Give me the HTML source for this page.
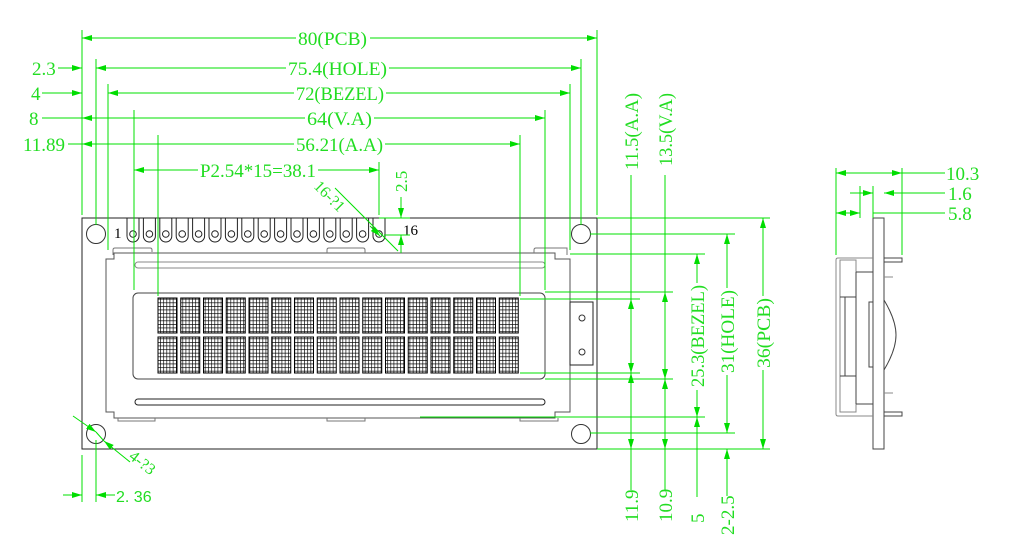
<!DOCTYPE html>
<html><head><meta charset="utf-8"><style>
html,body{margin:0;padding:0;background:#fff;width:1010px;height:544px;overflow:hidden}
svg text{font-family:"Liberation Serif",serif;fill:#22dd22;font-size:19px}
</style></head><body>
<svg width="1010" height="544" viewBox="0 0 1010 544" xmlns="http://www.w3.org/2000/svg">
<defs>
<pattern id="g" width="3.2" height="3.6" patternUnits="userSpaceOnUse">
<rect width="3.2" height="3.6" fill="#fff"/>
<path d="M0 0H3.2M0 0V3.6" stroke="#000" stroke-width="1.3"/>
</pattern>
<marker id="a" viewBox="0 0 10 6" refX="10" refY="3" markerWidth="10" markerHeight="6" orient="auto-start-reverse" markerUnits="userSpaceOnUse"><path d="M0 0L10 3L0 6z" fill="#00dd00"/></marker>
</defs>

<g fill="none" stroke="#333" stroke-width="1">
<rect x="82" y="218" width="515" height="231" stroke="#222"/>
<circle cx="96" cy="234" r="9.5"/><circle cx="581" cy="234" r="9.5"/>
<circle cx="96" cy="434" r="9.5"/><circle cx="581" cy="434" r="9.5"/>
<path d="M106 259H114V253H555V259H570V412H555V418H114V412H106Z" stroke="#555"/>
<path d="M113 255V250Q113 248 115 248H150Q152 248 152 250V252M327 253V250Q327 248 329 248H363Q365 248 365 250V253M534 253V250Q534 248 536 248H567V255" stroke="#777"/>
<path d="M118 418V421H155V418M327 418V421H365V418M520 418V421H558V418" stroke="#777"/>
<rect x="135" y="262" width="410" height="6" rx="3" stroke="#888"/>
<rect x="135" y="399" width="410" height="6" rx="3" stroke="#222"/>
<rect x="133" y="293" width="412" height="86" rx="5" stroke="#444"/>
<rect x="570" y="302" width="23" height="63" stroke="#222"/>
<circle cx="582" cy="318" r="3"/><circle cx="582" cy="352" r="3"/>
</g>
<g stroke="#222" stroke-width="1" fill="none">
<path d="M127 218V236A6 6 0 0 0 139 236V218"/><circle cx="133" cy="234" r="3.3"/>
<path d="M143.4 218V236A6 6 0 0 0 155.4 236V218"/><circle cx="149.4" cy="234" r="3.3"/>
<path d="M159.8 218V236A6 6 0 0 0 171.8 236V218"/><circle cx="165.8" cy="234" r="3.3"/>
<path d="M176.2 218V236A6 6 0 0 0 188.2 236V218"/><circle cx="182.2" cy="234" r="3.3"/>
<path d="M192.6 218V236A6 6 0 0 0 204.6 236V218"/><circle cx="198.6" cy="234" r="3.3"/>
<path d="M209 218V236A6 6 0 0 0 221 236V218"/><circle cx="215" cy="234" r="3.3"/>
<path d="M225.4 218V236A6 6 0 0 0 237.4 236V218"/><circle cx="231.4" cy="234" r="3.3"/>
<path d="M241.8 218V236A6 6 0 0 0 253.8 236V218"/><circle cx="247.8" cy="234" r="3.3"/>
<path d="M258.2 218V236A6 6 0 0 0 270.2 236V218"/><circle cx="264.2" cy="234" r="3.3"/>
<path d="M274.6 218V236A6 6 0 0 0 286.6 236V218"/><circle cx="280.6" cy="234" r="3.3"/>
<path d="M291 218V236A6 6 0 0 0 303 236V218"/><circle cx="297" cy="234" r="3.3"/>
<path d="M307.4 218V236A6 6 0 0 0 319.4 236V218"/><circle cx="313.4" cy="234" r="3.3"/>
<path d="M323.8 218V236A6 6 0 0 0 335.8 236V218"/><circle cx="329.8" cy="234" r="3.3"/>
<path d="M340.2 218V236A6 6 0 0 0 352.2 236V218"/><circle cx="346.2" cy="234" r="3.3"/>
<path d="M356.6 218V236A6 6 0 0 0 368.6 236V218"/><circle cx="362.6" cy="234" r="3.3"/>
<path d="M373 218V236A6 6 0 0 0 385 236V218"/><circle cx="379" cy="234" r="3.3"/>
</g>
<text x="114" y="238" style="fill:#000;font-size:15px">1</text>
<text x="403" y="235" style="fill:#000;font-size:15px">16</text>

<g fill="url(#g)" stroke="#000" stroke-width="1">
<rect x="158" y="298" width="19" height="35"/><rect x="180.75" y="298" width="19" height="35"/><rect x="203.5" y="298" width="19" height="35"/><rect x="226.25" y="298" width="19" height="35"/><rect x="249" y="298" width="19" height="35"/><rect x="271.75" y="298" width="19" height="35"/><rect x="294.5" y="298" width="19" height="35"/><rect x="317.25" y="298" width="19" height="35"/><rect x="340" y="298" width="19" height="35"/><rect x="362.75" y="298" width="19" height="35"/><rect x="385.5" y="298" width="19" height="35"/><rect x="408.25" y="298" width="19" height="35"/><rect x="431" y="298" width="19" height="35"/><rect x="453.75" y="298" width="19" height="35"/><rect x="476.5" y="298" width="19" height="35"/><rect x="499.25" y="298" width="19" height="35"/>
<rect x="158" y="337" width="19" height="36"/><rect x="180.75" y="337" width="19" height="36"/><rect x="203.5" y="337" width="19" height="36"/><rect x="226.25" y="337" width="19" height="36"/><rect x="249" y="337" width="19" height="36"/><rect x="271.75" y="337" width="19" height="36"/><rect x="294.5" y="337" width="19" height="36"/><rect x="317.25" y="337" width="19" height="36"/><rect x="340" y="337" width="19" height="36"/><rect x="362.75" y="337" width="19" height="36"/><rect x="385.5" y="337" width="19" height="36"/><rect x="408.25" y="337" width="19" height="36"/><rect x="431" y="337" width="19" height="36"/><rect x="453.75" y="337" width="19" height="36"/><rect x="476.5" y="337" width="19" height="36"/><rect x="499.25" y="337" width="19" height="36"/>
</g>

<g fill="none" stroke="#444" stroke-width="1">
<rect x="873" y="218" width="11" height="231"/>
<path d="M873 258H838Q836 258 836 260V414Q836 416 838 416H873" stroke="#888"/>
<path d="M884 258H902V262H884M884 412H902V416H884" />
<rect x="840" y="260" width="16" height="152" stroke="#888"/>
<path d="M840 297H856M840 376H856M845 297V376M856 272H873M856 404H873M856 272V404"/>
<rect x="869" y="302" width="4" height="65"/>
<path d="M884 300Q896 320 896 335Q896 350 884 370"/>
<path d="M884 277H893M884 393H893" stroke="#888"/>
</g>

<g stroke="#00e000" stroke-width="1" fill="none">
<path d="M82 30V215M597 30V215M96 59V225M581 59V225M108 84V250M570 84V250M134 110V290M545 110V290M158 135V296M520 135V296M134 162V215M379 162V215"/>
<path d="M82 38H296M370 38H597" marker-start="url(#a)" marker-end="url(#a)"/>
<path d="M58 68H82" marker-end="url(#a)"/><path d="M96 68H286M389 68H581" marker-start="url(#a)" marker-end="url(#a)"/>
<path d="M42 93H82" marker-end="url(#a)"/><path d="M108 93H294M386 93H570" marker-start="url(#a)" marker-end="url(#a)"/>
<path d="M42 118H82"/><path d="M82 118H134M134 118H305M374 118H545" marker-start="url(#a)" marker-end="url(#a)"/>
<path d="M68 144H82"/><path d="M82 144H158M158 144H294M385 144H520" marker-start="url(#a)" marker-end="url(#a)"/>
<path d="M134 170H198M318 170H379" marker-start="url(#a)" marker-end="url(#a)"/>
<path d="M401 197V218" marker-end="url(#a)"/><path d="M401 253V235" marker-end="url(#a)"/>
<path d="M379 218H410M384 235H410"/>
<path d="M335 188L398 251" /><path d="M370 226L380 236" marker-end="url(#a)"/>
<path d="M597 218H770M590 234H735M570 254H705M545 292H673M520 299H640M520 373H640M545 379H673M420 417H705M590 433H735M597 449H770"/>
<path d="M631 175V490" />
<path d="M631 330V299" marker-end="url(#a)"/><path d="M631 345V373" marker-end="url(#a)"/>
<path d="M631 400V373" marker-end="url(#a)"/><path d="M631 425V449" marker-end="url(#a)"/>
<path d="M665 175V490"/>
<path d="M665 330V292" marker-end="url(#a)"/><path d="M665 345V379" marker-end="url(#a)"/>
<path d="M665 400V379" marker-end="url(#a)"/><path d="M665 425V449" marker-end="url(#a)"/>
<path d="M697 283V254" marker-end="url(#a)"/><path d="M697 390V417" marker-end="url(#a)"/><path d="M697 390V497"/>
<path d="M697 440V417" marker-end="url(#a)"/>
<path d="M727 288V234" marker-end="url(#a)"/><path d="M727 375V433" marker-end="url(#a)"/><path d="M727 460V449" marker-end="url(#a)"/><path d="M727 449V496"/>
<path d="M763 296V218" marker-end="url(#a)"/><path d="M763 370V449" marker-end="url(#a)"/>
<path d="M82 455V502M96 440V502"/>
<path d="M63 495H82" marker-end="url(#a)"/><path d="M115 495H96" marker-end="url(#a)"/>
<path d="M73 416L96 432" marker-end="url(#a)"/><path d="M130 462L104 441" marker-end="url(#a)"/><path d="M96 432L104 441"/>
<path d="M836 168V255M902 168V255M860 186V218M873 186V218"/>
<path d="M836 173H902" marker-start="url(#a)" marker-end="url(#a)"/><path d="M902 173H945"/>
<path d="M850 193H873" marker-end="url(#a)"/><path d="M905 193H884" marker-end="url(#a)"/><path d="M884 193H945"/>
<path d="M836 213H860" marker-start="url(#a)" marker-end="url(#a)"/><path d="M873 213H945"/>
</g>

<text x="298" y="45" textLength="69" lengthAdjust="spacingAndGlyphs">80(PCB)</text>
<text x="288" y="75" textLength="99" lengthAdjust="spacingAndGlyphs">75.4(HOLE)</text>
<text x="296" y="100" textLength="88" lengthAdjust="spacingAndGlyphs">72(BEZEL)</text>
<text x="307" y="125" textLength="65" lengthAdjust="spacingAndGlyphs">64(V.A)</text>
<text x="296" y="151" textLength="87" lengthAdjust="spacingAndGlyphs">56.21(A.A)</text>
<text x="200" y="177" textLength="116" lengthAdjust="spacingAndGlyphs">P2.54*15=38.1</text>
<text x="32" y="75">2.3</text>
<text x="31" y="100">4</text>
<text x="29" y="125">8</text>
<text x="23" y="151">11.89</text>
<text transform="translate(407,192) rotate(-90)" style="font-size:17px">2.5</text>
<text transform="translate(313,187) rotate(45)" style="font-size:16px">16-?1</text>
<text transform="translate(128,458) rotate(38)" style="font-size:16px">4-?3</text>
<text x="116" y="502" style="font-family:'Liberation Sans',sans-serif;font-size:16px">2. 36</text>
<text transform="translate(638,170) rotate(-90)" textLength="77" lengthAdjust="spacingAndGlyphs">11.5(A.A)</text>
<text transform="translate(672,166) rotate(-90)" textLength="73" lengthAdjust="spacingAndGlyphs">13.5(V.A)</text>
<text transform="translate(704,387) rotate(-90)" textLength="102" lengthAdjust="spacingAndGlyphs">25.3(BEZEL)</text>
<text transform="translate(734,373) rotate(-90)" textLength="83" lengthAdjust="spacingAndGlyphs">31(HOLE)</text>
<text transform="translate(770,368) rotate(-90)" textLength="70" lengthAdjust="spacingAndGlyphs">36(PCB)</text>
<text transform="translate(638,522) rotate(-90)">11.9</text>
<text transform="translate(672,522) rotate(-90)">10.9</text>
<text transform="translate(704,523) rotate(-90)">5</text>
<text transform="translate(734,535) rotate(-90)">2-2.5</text>
<text x="946" y="180">10.3</text>
<text x="948" y="200">1.6</text>
<text x="948" y="220">5.8</text>
</svg>
</body></html>
